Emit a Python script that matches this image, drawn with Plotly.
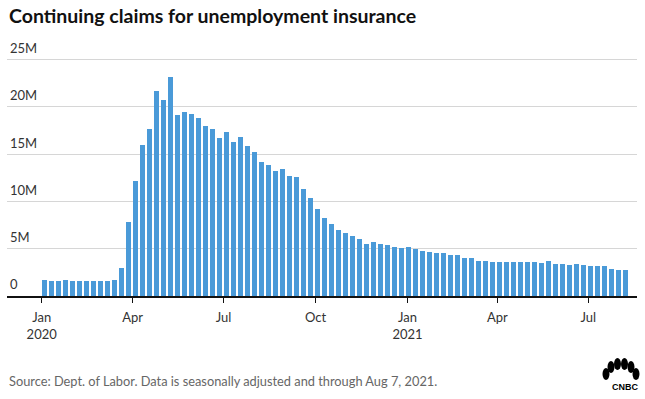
import pandas as pd
import plotly.graph_objects as go

# Continuing claims (millions), weekly, week ending Saturday
claims_m = [
    1.69, 1.59, 1.59, 1.69, 1.59, 1.59, 1.59, 1.59, 1.59, 1.59,
    1.69, 2.97, 7.84, 12.18, 16.00, 17.60, 21.61, 20.76, 23.09, 19.17,
    19.39, 19.28, 18.86, 18.01, 17.69, 16.74, 17.37, 16.31, 16.84, 15.89,
    15.25, 14.19, 13.88, 13.24, 13.45, 12.71, 12.61, 11.33, 10.38, 9.22,
    8.26, 7.63, 6.99, 6.67, 6.36, 6.04, 5.51, 5.72, 5.51, 5.40,
    5.19, 5.08, 5.19, 4.98, 4.77, 4.66, 4.56, 4.56, 4.34, 4.34,
    4.03, 4.03, 3.71, 3.71, 3.60, 3.60, 3.60, 3.60, 3.60, 3.60,
    3.60, 3.50, 3.71, 3.39, 3.39, 3.28, 3.39, 3.28, 3.18, 3.18,
    3.18, 2.86, 2.75, 2.75,
]
week_ending = pd.date_range("2020-01-04", periods=len(claims_m), freq="W-SAT")

y_tickvals = [0, 5, 10, 15, 20, 25]
y_ticktext = ["0", "5M", "10M", "15M", "20M", "25M"]
x_tickvals = ["2020-01-01", "2020-04-01", "2020-07-01", "2020-10-01",
              "2021-01-01", "2021-04-01", "2021-07-01"]
x_ticktext = ["Jan<br>2020", "Apr", "Jul", "Oct", "Jan<br>2021", "Apr", "Jul"]

title_text = "Continuing claims for unemployment insurance"
source_text = "Source: Dept. of Labor. Data is seasonally adjusted and through Aug 7, 2021."

FONT = "Lato"
DAY_MS = 86400000
Y_MAX = 28.0
TOP = 296 - 237 * Y_MAX / 25.0   # keeps 25M gridline at y=59, baseline at y=296

fig = go.Figure(go.Bar(
    x=week_ending, y=claims_m,
    width=5 * DAY_MS,
    marker=dict(color="#4a9ad8", line=dict(width=0)),
    hoverinfo="x+y",
))

fig.update_layout(
    width=645, height=399,
    margin=dict(l=7, r=8, t=TOP, b=103, autoexpand=False),
    paper_bgcolor="white", plot_bgcolor="white",
    showlegend=False,
    font=dict(family=FONT, color="#333333", size=13),
    xaxis=dict(
        type="date", automargin=False,
        range=["2019-11-27 07:00", "2021-08-18 16:00"],
        tickvals=x_tickvals, ticktext=x_ticktext,
        ticks="outside", ticklen=5, tickwidth=1.2, tickcolor="#111111",
        ticklabelstandoff=4,
        showline=True, linecolor="#111111", linewidth=1.5,
        showgrid=False, zeroline=False,
        tickfont=dict(family=FONT, size=13, color="#333333"),
    ),
    yaxis=dict(
        automargin=False,
        range=[0, Y_MAX],
        tickvals=y_tickvals, ticktext=y_ticktext,
        ticklabelposition="inside top",
        ticklabelshift=-2,
        ticks="", showline=False,
        showgrid=True, gridcolor="#d6d6d6", gridwidth=1,
        zeroline=False,
        tickfont=dict(family=FONT, size=13, color="#333333"),
    ),
    bargap=0,
)

fig.add_annotation(
    text="<b>" + title_text + "</b>", xref="paper", yref="paper",
    x=0, y=1, xanchor="left", yanchor="middle",
    xshift=0, yshift=TOP - 15,
    showarrow=False, font=dict(family=FONT, size=19.5, color="#111111"),
)
fig.add_annotation(
    text=source_text, xref="paper", yref="paper",
    x=0, y=0, xanchor="left", yanchor="middle", yshift=-85,
    showarrow=False, font=dict(family=FONT, size=12.8, color="#666666"),
)
fig.add_annotation(
    text="<b>CNBC</b>", xref="paper", yref="paper",
    x=1, y=0, xanchor="right", yanchor="middle", xshift=3, yshift=-91,
    showarrow=False, font=dict(family="Liberation Sans", size=9, color="#000000"),
)
# peacock feathers of logo (decorative)
feather_centers = [(-31, -78), (-26, -71), (-19.5, -68), (-12.5, -68), (-6, -71), (-1, -78)]
for cx, cy in feather_centers:
    fig.add_shape(
        type="circle", xref="paper", yref="paper",
        xsizemode="pixel", ysizemode="pixel",
        xanchor=1, yanchor=0,
        x0=cx - 3.5, x1=cx + 3.5, y0=cy - 6, y1=cy + 6,
        fillcolor="#000000", line=dict(width=0),
    )

fig.write_html("out.html", config={"displayModeBar": False},
               post_script="document.body.style.margin='0px';")
